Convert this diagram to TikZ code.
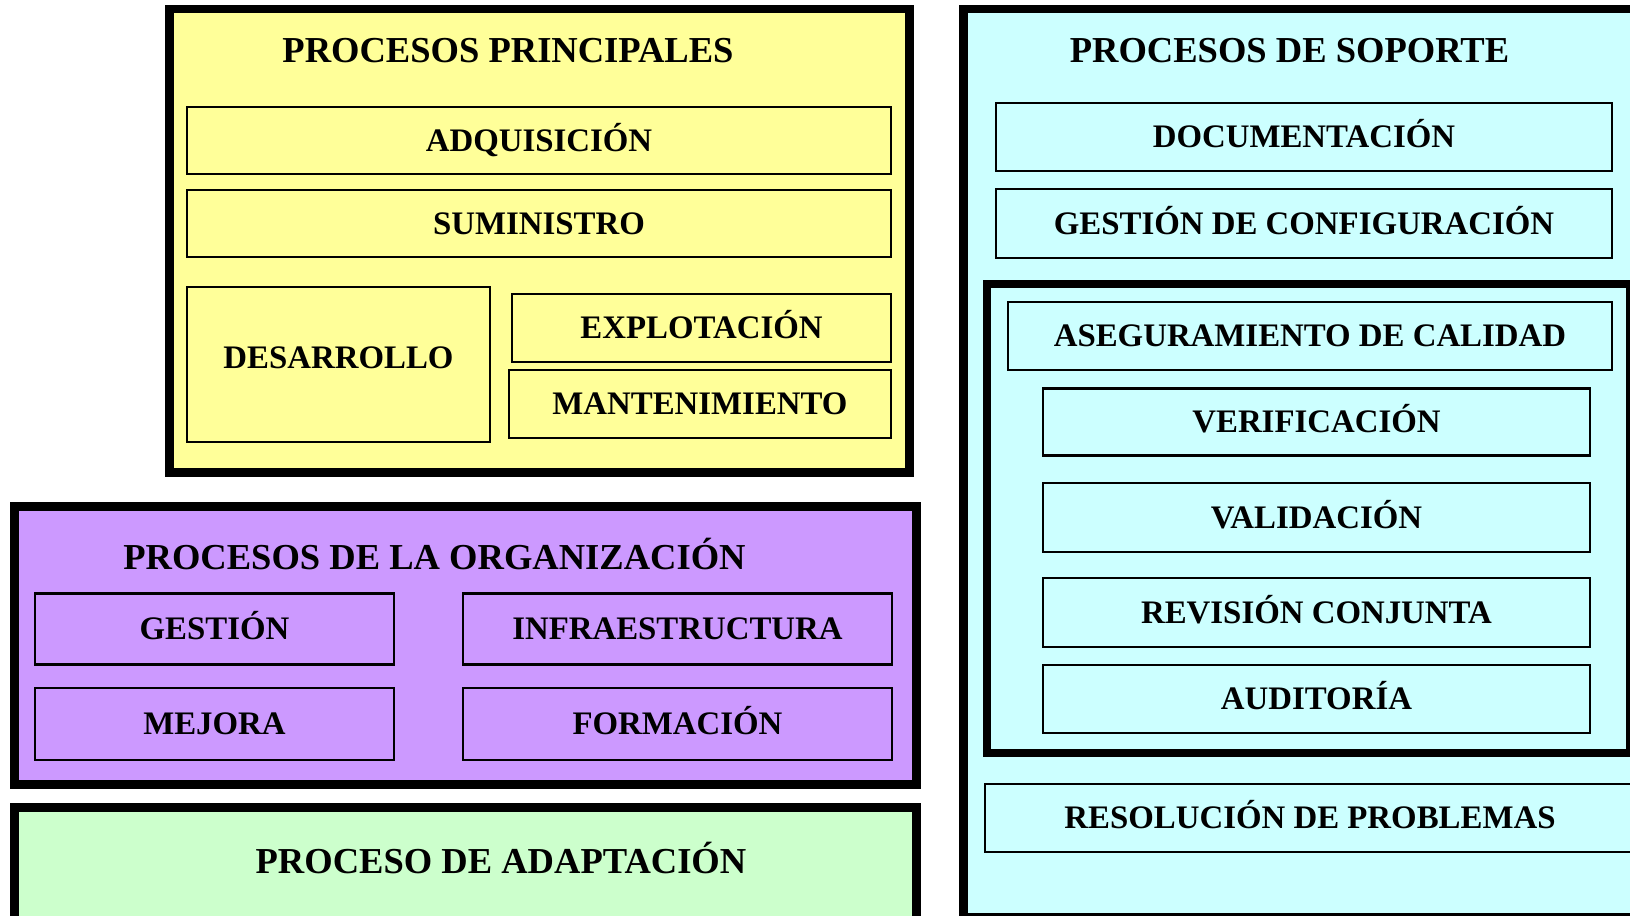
\documentclass[tikz,border=0pt]{standalone}
\usepackage{fontspec}
\setmainfont{Liberation Serif}
\usepackage{xcolor}
\usepackage{tikz}

\definecolor{prinyellow}{HTML}{FFFF99}
\definecolor{orgpurple}{HTML}{CC99FF}
\definecolor{adapgreen}{HTML}{CCFFCC}
\definecolor{sopcyan}{HTML}{CCFFFF}

\begin{document}
\begin{tikzpicture}[x=0.02cm, y=-0.02cm,
    every node/.style={font=\bfseries\fontsize{18.7}{22}\selectfont},
    frame/.style={draw, line width=0.18cm},
    proc/.style={draw, rectangle, line width=0.045cm, inner sep=0pt, align=center, text height=12.4pt, text depth=0pt},
    title/.style={font=\bfseries\fontsize{20.8}{24}\selectfont, text height=13.8pt, text depth=0pt}]
    \useasboundingbox (0,0) rectangle (1630,916);
    \clip (0,0) rectangle (1630,916);

    % Principales
    \draw[frame, fill=prinyellow] (169,9) rectangle (909.5,472.5);
    \node[title] (tprin) at (508,50) {PROCESOS PRINCIPALES};
    \node[proc, fill=prinyellow, minimum width=14.08cm, minimum height=1.34cm] (adq) at (539,140.5) {ADQUISICIÓN};
    \node[proc, fill=prinyellow, minimum width=14.08cm, minimum height=1.34cm] (sum) at (539,223.5) {SUMINISTRO};
    \node[proc, fill=prinyellow, minimum width=6.06cm, minimum height=3.1cm, text depth=0.28cm] (des) at (338.5,364.5) {DESARROLLO};
    \node[proc, fill=prinyellow, minimum width=7.58cm, minimum height=1.36cm] (exp) at (701.5,328) {EXPLOTACIÓN};
    \node[proc, fill=prinyellow, minimum width=7.64cm, minimum height=1.36cm] (man) at (700,404) {MANTENIMIENTO};

    % Organizacion
    \draw[frame, fill=orgpurple] (14.5,506.5) rectangle (916.5,784.5);
    \node[title] (torg) at (434.5,557) {PROCESOS DE LA ORGANIZACIÓN};
    \node[proc, fill=orgpurple, minimum width=7.18cm, minimum height=1.42cm] (ges) at (214.5,629) {GESTIÓN};
    \node[proc, fill=orgpurple, minimum width=8.58cm, minimum height=1.42cm] (inf) at (677.5,629) {INFRAESTRUCTURA};
    \node[proc, fill=orgpurple, minimum width=7.18cm, minimum height=1.44cm] (mej) at (214.5,724) {MEJORA};
    \node[proc, fill=orgpurple, minimum width=8.58cm, minimum height=1.44cm] (for) at (677.5,724) {FORMACIÓN};

    % Adaptacion
    \draw[frame, fill=adapgreen] (14.5,807.5) rectangle (916.5,922);
    \node[title] (tadap) at (501,861) {PROCESO DE ADAPTACIÓN};

    % Soporte
    \draw[frame, fill=sopcyan] (963.5,9) rectangle (1645,917.5);
    \node[title] (tsop) at (1289.5,50) {PROCESOS DE SOPORTE};
    \node[proc, fill=sopcyan, minimum width=12.32cm, minimum height=1.36cm] (doc) at (1304,137) {DOCUMENTACIÓN};
    \node[proc, fill=sopcyan, minimum width=12.32cm, minimum height=1.38cm] (gdc) at (1304,223.5) {GESTIÓN DE CONFIGURACIÓN};

    % Calidad
    \draw[frame, line width=0.16cm, fill=sopcyan] (986.5,284) rectangle (1630,752.5);
    \node[proc, fill=sopcyan, minimum width=12.08cm, minimum height=1.36cm] (ase) at (1310,336) {ASEGURAMIENTO DE CALIDAD};
    \node[proc, fill=sopcyan, minimum width=10.94cm, minimum height=1.34cm] (ver) at (1316.5,422) {VERIFICACIÓN};
    \node[proc, fill=sopcyan, minimum width=10.94cm, minimum height=1.38cm] (val) at (1316.5,517.5) {VALIDACIÓN};
    \node[proc, fill=sopcyan, minimum width=10.94cm, minimum height=1.38cm] (rev) at (1316.5,612.5) {REVISIÓN CONJUNTA};
    \node[proc, fill=sopcyan, minimum width=10.94cm, minimum height=1.36cm] (aud) at (1316.5,699) {AUDITORÍA};

    \node[proc, fill=sopcyan, minimum width=13cm, minimum height=1.36cm] (res) at (1310,818) {RESOLUCIÓN DE PROBLEMAS};
\end{tikzpicture}
\end{document}
